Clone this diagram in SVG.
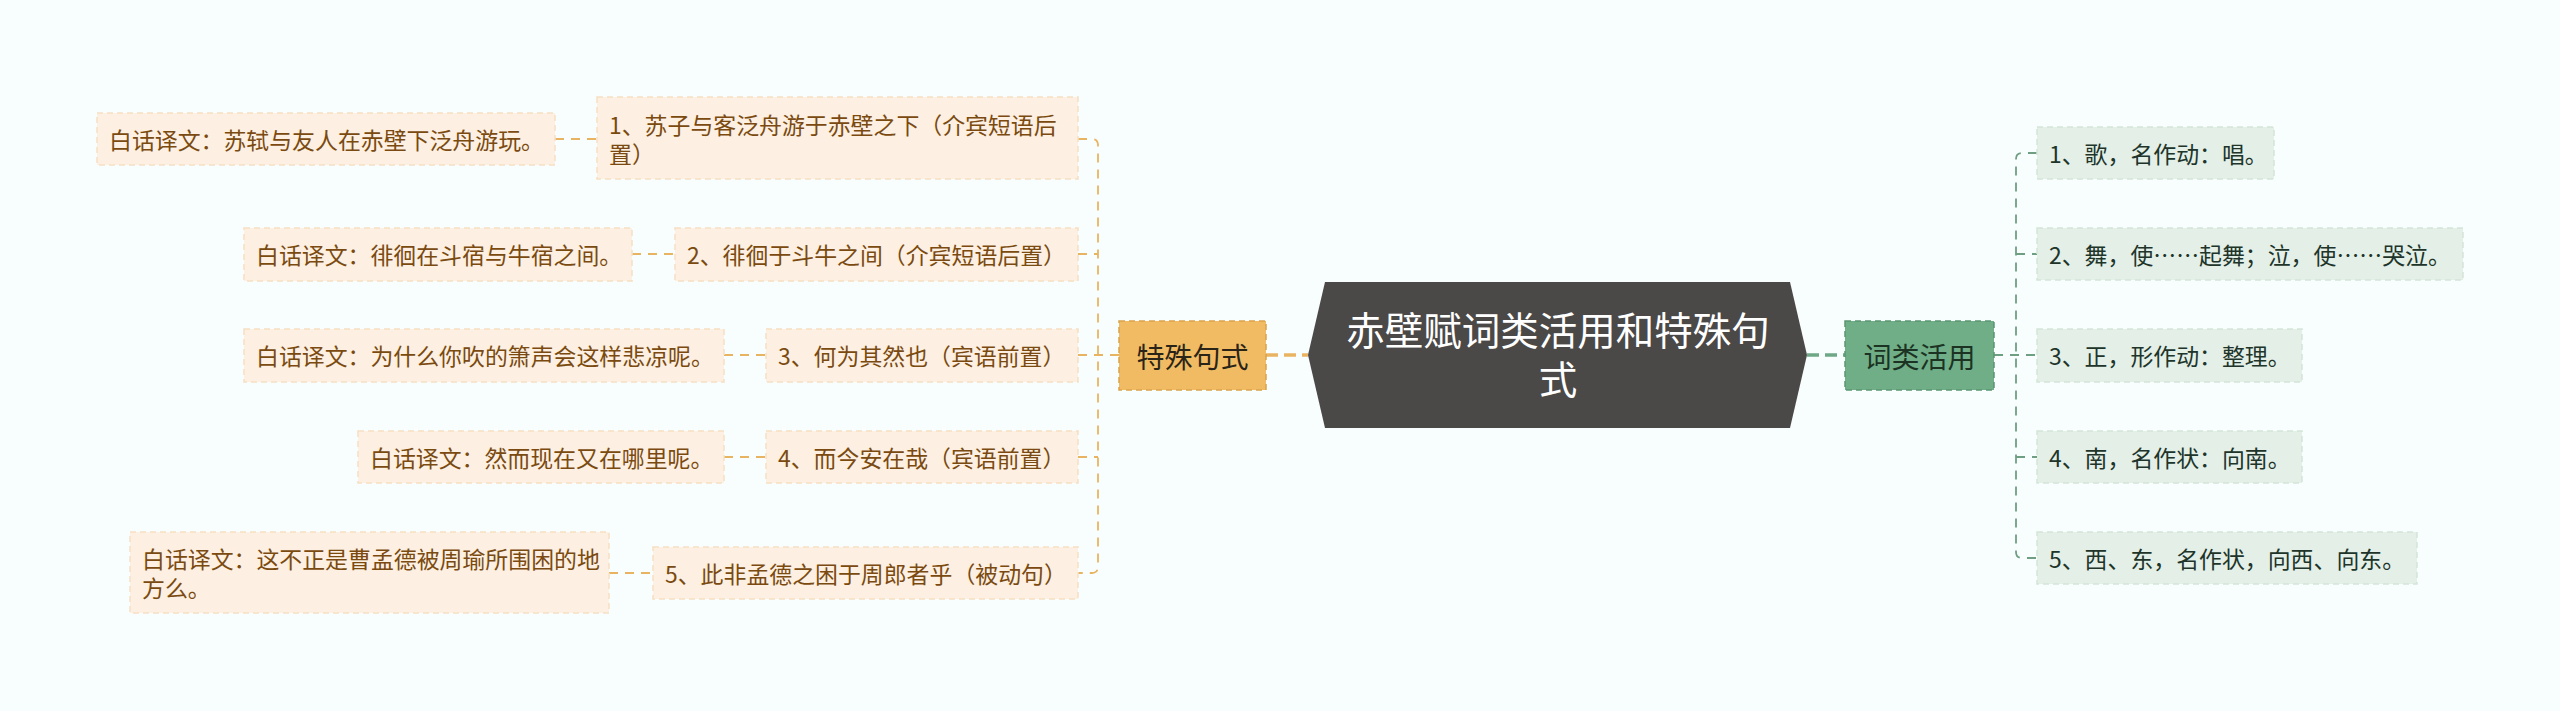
<svg xmlns="http://www.w3.org/2000/svg" width="2560" height="711" viewBox="0 0 2560 711">
<style>
text{font-family:"Noto Sans CJK SC","Noto Sans",sans-serif;dominant-baseline:central}
.ct{font-family:"Liberation Sans","Noto Sans CJK SC",sans-serif;font-size:38.5px;fill:#ffffff;text-anchor:middle}
.lc{fill:#fdf0e2;stroke:#f6dfc3;stroke-width:1.5;stroke-dasharray:6 4}
.lt{font-size:22.9px;fill:#7a4a10}
.rc{fill:#e3efe7;stroke:#d3e5d9;stroke-width:1.5;stroke-dasharray:6 4}
.rt{font-size:22.9px;fill:#20342a}
.ol{fill:none;stroke:#e9b462;stroke-width:1.8;stroke-dasharray:9 7}
.gl{fill:none;stroke:#6f9f82;stroke-width:1.8;stroke-dasharray:9 7}
</style>
<rect width="2560" height="711" fill="#f8fdfd"/>
<g id="connectors">
<path class="ol" d="M1119 355H1098M1078 139H1092Q1098 139 1098 145V566Q1098 573 1092 573H1078M1078 254H1098M1078 355H1098M1078 457H1098"/>
<path class="ol" d="M555 139H597M632 254H675M724 355H766M724 457H766M609 573H653"/>
<path d="M1266 355H1308" stroke="#e9b462" stroke-width="3.5" stroke-dasharray="12 6" fill="none"/>
<path d="M1807 355H1845" stroke="#6fa886" stroke-width="3.5" stroke-dasharray="12 6" fill="none"/>
<path class="gl" d="M1994 355H2037M2037 153H2022Q2016 153 2016 159V552Q2016 558 2022 558H2037M2016 254H2037M2016 457H2037"/>
</g>
<g id="center">
<polygon points="1325,282 1790,282 1807,355 1790,428 1325,428 1308,355" fill="#4b4848"/>
<text class="ct"><tspan x="1558" y="331">赤壁赋词类活用和特殊句</tspan><tspan x="1558" y="380">式</tspan></text>
</g>
<g id="n-tesu">
<rect x="1119" y="321" width="147" height="69" fill="#f0bb62" stroke="#d9a24c" stroke-width="1.5" stroke-dasharray="6 4"/>
<text x="1192.5" y="355.5" font-size="28" fill="#2a2418" text-anchor="middle">特殊句式</text>
</g>
<g id="n-cilei">
<rect x="1845" y="321" width="149" height="69" fill="#6fae86" stroke="#5b9672" stroke-width="1.5" stroke-dasharray="6 4"/>
<text x="1919.5" y="355.5" font-size="28" fill="#1c3324" text-anchor="middle">词类活用</text>
</g>
<g id="l1">
<rect class="lc" x="597" y="97" width="481" height="82"/>
<text class="lt"><tspan x="609" y="124">1、苏子与客泛舟游于赤壁之下（介宾短语后</tspan><tspan x="609" y="153">置）</tspan></text>
</g>
<g id="l1t">
<rect class="lc" x="97" y="113" width="458" height="52"/>
<text class="lt" x="109" y="139">白话译文：苏轼与友人在赤壁下泛舟游玩。</text>
</g>
<g id="l2">
<rect class="lc" x="675" y="228" width="403" height="53"/>
<text class="lt" x="687" y="254">2、徘徊于斗牛之间（介宾短语后置）</text>
</g>
<g id="l2t">
<rect class="lc" x="244" y="228" width="388" height="53"/>
<text class="lt" x="256" y="254">白话译文：徘徊在斗宿与牛宿之间。</text>
</g>
<g id="l3">
<rect class="lc" x="766" y="329" width="312" height="53"/>
<text class="lt" x="778" y="355">3、何为其然也（宾语前置）</text>
</g>
<g id="l3t">
<rect class="lc" x="244" y="329" width="480" height="53"/>
<text class="lt" x="256" y="355">白话译文：为什么你吹的箫声会这样悲凉呢。</text>
</g>
<g id="l4">
<rect class="lc" x="766" y="431" width="312" height="52"/>
<text class="lt" x="778" y="457">4、而今安在哉（宾语前置）</text>
</g>
<g id="l4t">
<rect class="lc" x="358" y="431" width="366" height="52"/>
<text class="lt" x="370" y="457">白话译文：然而现在又在哪里呢。</text>
</g>
<g id="l5">
<rect class="lc" x="653" y="547" width="425" height="52"/>
<text class="lt" x="665" y="573">5、此非孟德之困于周郎者乎（被动句）</text>
</g>
<g id="l5t">
<rect class="lc" x="130" y="532" width="479" height="81"/>
<text class="lt"><tspan x="142" y="558">白话译文：这不正是曹孟德被周瑜所围困的地</tspan><tspan x="142" y="587">方么。</tspan></text>
</g>
<g id="r1">
<rect class="rc" x="2037" y="127" width="237" height="52"/>
<text class="rt" x="2049" y="153">1、歌，名作动：唱。</text>
</g>
<g id="r2">
<rect class="rc" x="2037" y="228" width="426" height="52"/>
<text class="rt" x="2049" y="254">2、舞，使……起舞；泣，使……哭泣。</text>
</g>
<g id="r3">
<rect class="rc" x="2037" y="329" width="265" height="53"/>
<text class="rt" x="2049" y="355">3、正，形作动：整理。</text>
</g>
<g id="r4">
<rect class="rc" x="2037" y="431" width="265" height="52"/>
<text class="rt" x="2049" y="457">4、南，名作状：向南。</text>
</g>
<g id="r5">
<rect class="rc" x="2037" y="532" width="380" height="52"/>
<text class="rt" x="2049" y="558">5、西、东，名作状，向西、向东。</text>
</g>
</svg>
